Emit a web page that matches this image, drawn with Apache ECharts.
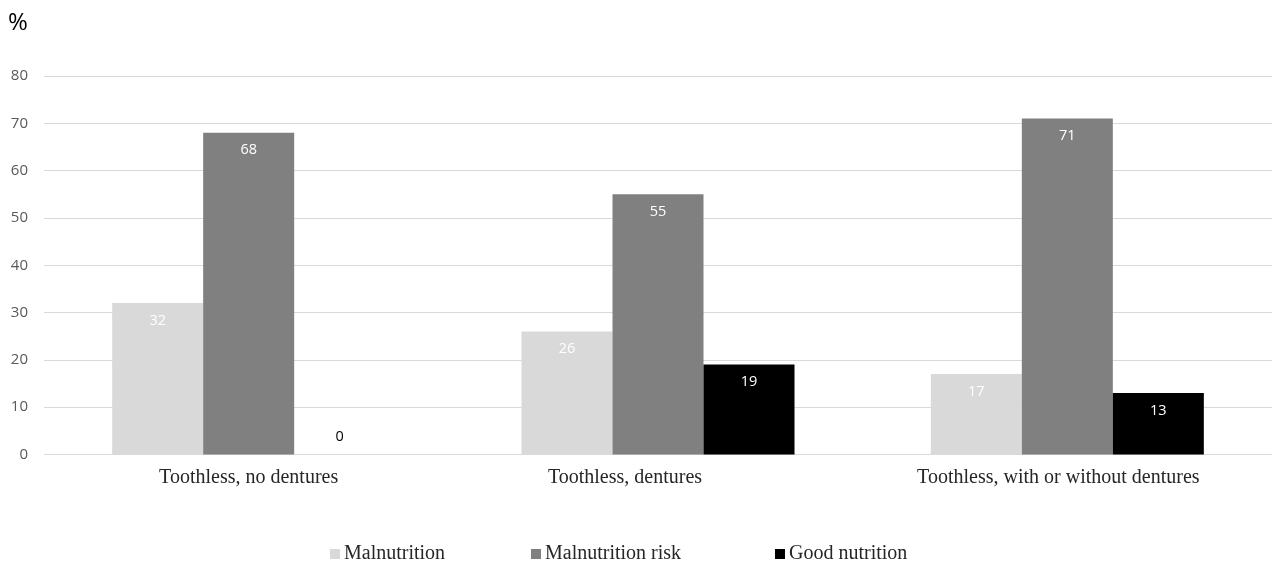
<!DOCTYPE html>
<html>
<head>
<meta charset="utf-8">
<script src="https://cdn.jsdelivr.net/npm/echarts@6/dist/echarts.min.js"></script>
<style>html,body{margin:0;padding:0;background:#fff}#c{width:1272px;height:562px}</style>
</head>
<body>
<div id="c"></div>
<script>
const categories = ['Toothless, no dentures', 'Toothless, dentures', 'Toothless, with or without dentures'];
const seriesNames = ['Malnutrition', 'Malnutrition risk', 'Good nutrition'];
const malnutrition = [32, 26, 17];
const malnutritionRisk = [68, 55, 71];
const goodNutrition = [0, 19, 13];
const yTicks = [0, 10, 20, 30, 40, 50, 60, 70, 80];

const colors = ['#d9d9d9', '#808080', '#000000'];
const serif = '"Liberation Serif", "Times New Roman", serif';
const sans = '"Open Sans", "Liberation Sans", sans-serif';

// horizontal shifts of category labels as placed in the original
const labelShift = [0, -33, -9];

function mkData(arr) {
  return arr.map(v => v === 0
    ? { value: v, label: { position: 'top', distance: 10, color: '#000' } }
    : v);
}

function mkSeries(name, arr, color) {
  return {
    name: name, type: 'bar', data: mkData(arr), barWidth: 91, barGap: '0%',
    itemStyle: { color: color },
    label: { show: true, position: 'insideTop', distance: 10, color: '#fff', fontFamily: sans, fontSize: 14.5 },
    emphasis: { disabled: true }
  };
}

const legendLefts = [330, 531, 775];

const chart = echarts.init(document.getElementById('c'));
chart.setOption({
  animation: false,
  color: colors,
  grid: { left: 44, top: 76, width: 1230, height: 378.5 },
  graphic: [{ type: 'text', left: 8, top: 11, style: { text: '%', fontFamily: sans, fontSize: 24, fill: '#000' } }],
  legend: seriesNames.map((n, i) => ({
    data: [n], left: legendLefts[i], top: 544, padding: 0, icon: 'rect', itemWidth: 10, itemHeight: 10, itemGap: 5,
    textStyle: { fontFamily: serif, fontSize: 20, color: '#262626', padding: [0, 0, 0, -1] },
    selectedMode: false
  })),
  xAxis: {
    type: 'category',
    data: categories.map((c, i) => ({ value: c, textStyle: { padding: labelShift[i] < 0 ? [0, -2 * labelShift[i], 0, 0] : 0 } })),
    axisLine: { show: false }, axisTick: { show: false },
    axisLabel: { fontFamily: serif, fontSize: 20, color: '#262626', margin: 13, interval: 0 }
  },
  yAxis: {
    type: 'value', min: yTicks[0], max: yTicks[yTicks.length - 1], interval: 10,
    axisLine: { show: false }, axisTick: { show: false },
    axisLabel: { fontFamily: sans, fontSize: 15, color: '#595959', margin: 16 },
    splitLine: { lineStyle: { color: '#d9d9d9', width: 1 } }
  },
  series: [
    mkSeries(seriesNames[0], malnutrition, colors[0]),
    mkSeries(seriesNames[1], malnutritionRisk, colors[1]),
    mkSeries(seriesNames[2], goodNutrition, colors[2])
  ]
});
</script>
</body>
</html>
